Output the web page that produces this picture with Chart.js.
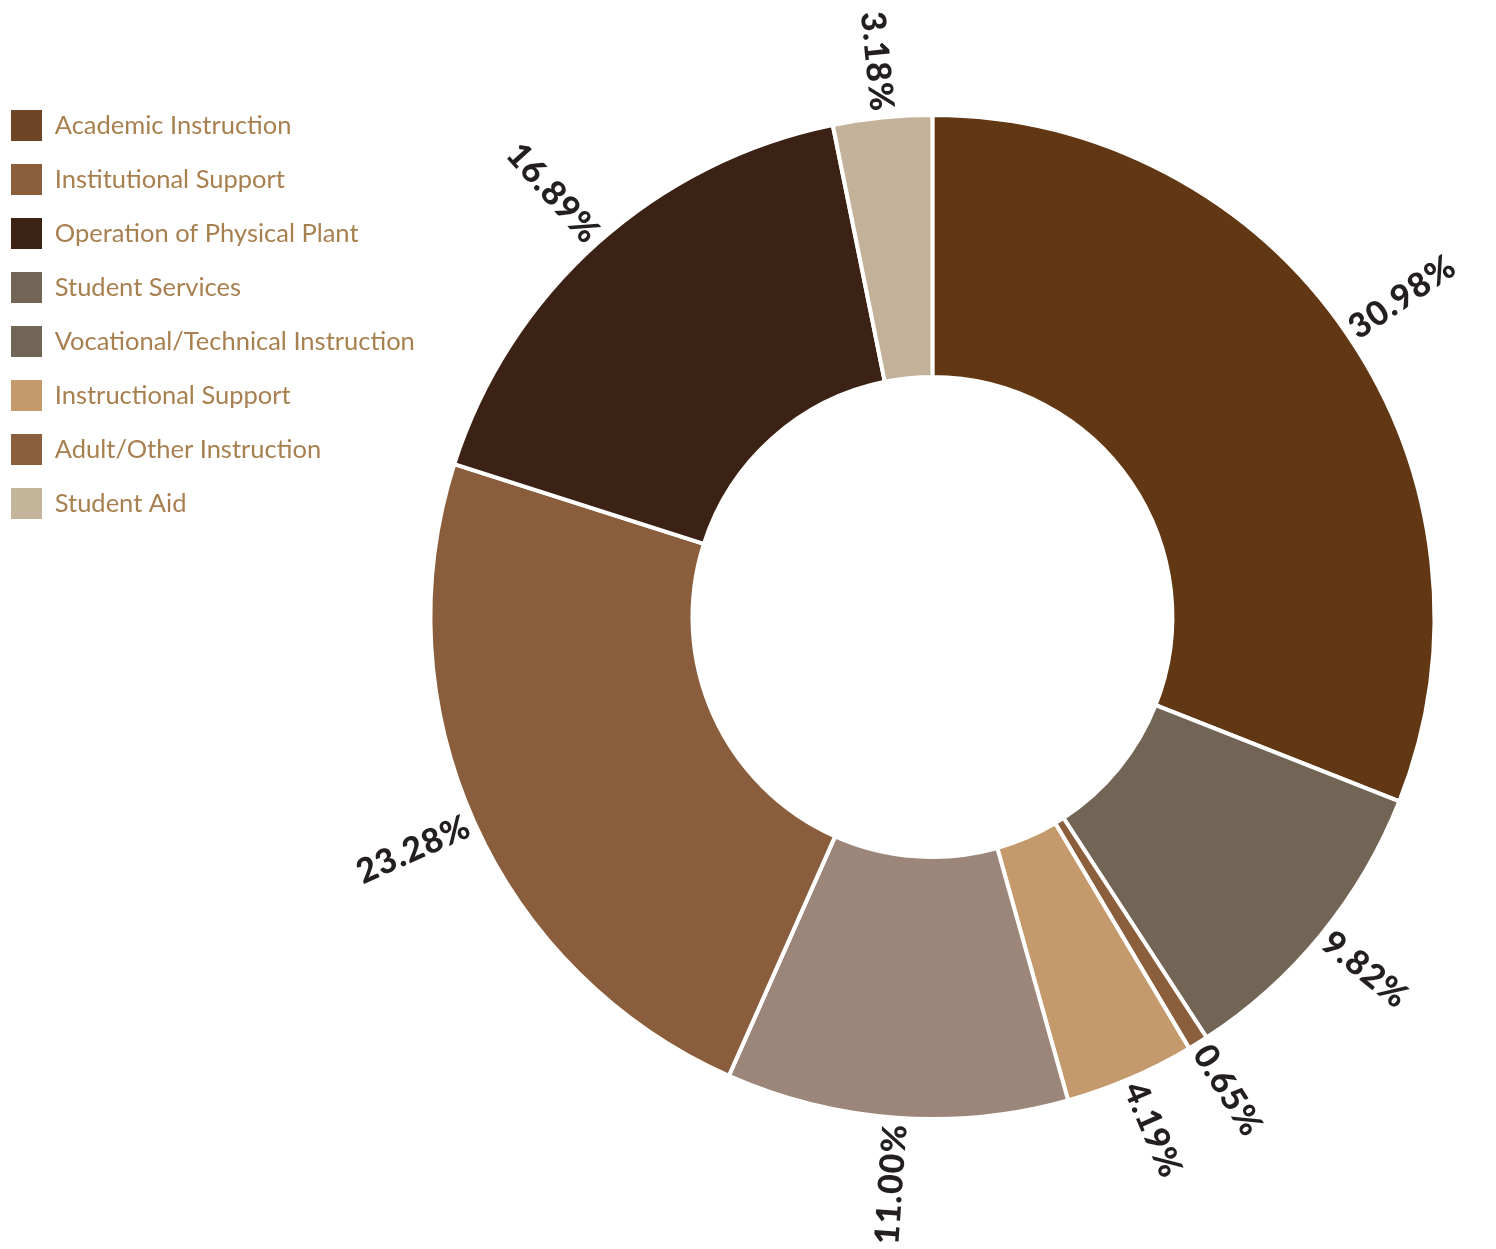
<!DOCTYPE html>
<html>
<head>
<meta charset="utf-8">
<script src="https://cdn.jsdelivr.net/npm/chart.js@4/dist/chart.umd.min.js"></script>
<style>
  html, body { margin:0; padding:0; background:#fff; }
  #wrap { width:1496px; height:1249px; position:relative; }
</style>
</head>
<body>
<div id="wrap"><canvas id="spend-chart"></canvas></div>
<script>
// slices, clockwise from 12 o'clock
const categories = ['Academic Instruction', 'Student Services', 'Adult/Other Instruction', 'Instructional Support',
  'Vocational/Technical Instruction', 'Institutional Support', 'Operation of Physical Plant', 'Student Aid'];
const shares = [30.98, 9.82, 0.65, 4.19, 11.00, 23.28, 16.89, 3.18];
const sliceColors = ['#613813', '#726556', '#8b5e3c', '#c49a6c', '#9c8579', '#8a5e3c', '#3c2215', '#c3b299'];

// legend is listed in a different order than the slices
const legendOrder = ['Academic Instruction', 'Institutional Support', 'Operation of Physical Plant', 'Student Services',
  'Vocational/Technical Instruction', 'Instructional Support', 'Adult/Other Instruction', 'Student Aid'];
const legendSwatches = ['#6e4626', '#8b5e3c', '#3c2314', '#726556', '#716555', '#c49a6c', '#8b5e3c', '#c4b49a'];

// percent labels outside the ring, turned along the radius
const ringLabels = {
  id: 'ringLabels',
  afterDatasetsDraw(chart){
    const ctx = chart.ctx;
    const meta = chart.getDatasetMeta(0);
    ctx.save();
    ctx.font = '900 34px Lato';
    ctx.letterSpacing = '1px';
    ctx.fillStyle = '#231f20';
    ctx.textBaseline = 'middle';
    meta.data.forEach((arc, i)=>{
      const mid = (arc.startAngle + arc.endAngle) / 2;
      const r = arc.outerRadius + 6;
      const x = arc.x + Math.cos(mid) * r;
      const y = arc.y + Math.sin(mid) * r;
      let rot = mid;
      ctx.textAlign = 'left';
      if (Math.cos(mid) < 0) { rot += Math.PI; ctx.textAlign = 'right'; }
      ctx.save();
      ctx.translate(x, y);
      ctx.rotate(rot);
      ctx.fillText(shares[i].toFixed(2) + '%', 0, 0);
      ctx.restore();
    });
    ctx.restore();
  }
};

const ctx = document.getElementById('spend-chart').getContext('2d');
new Chart(ctx, {
  type: 'doughnut',
  data: {
    labels: categories,
    datasets: [{
      data: shares,
      backgroundColor: sliceColors,
      borderColor: '#ffffff',
      borderWidth: 4,
      radius: 502,
      cutout: '47.8%'
    }]
  },
  options: {
    responsive: true,
    maintainAspectRatio: false,
    animation: false,
    layout: { padding: { top: 87, bottom: 102, left: -12, right: 56 } },
    plugins: {
      tooltip: { enabled: false },
      legend: {
        position: 'left',
        align: 'start',
        labels: {
          boxWidth: 31,
          boxHeight: 31,
          padding: 23,
          color: '#a87f4e',
          font: { family: 'Lato', size: 25.5 },
          sort: (a, b) => legendOrder.indexOf(a.text) - legendOrder.indexOf(b.text),
          generateLabels(chart){
            const items = Chart.overrides.doughnut.plugins.legend.labels.generateLabels(chart);
            items.forEach(it=>{
              it.fillStyle = legendSwatches[legendOrder.indexOf(it.text)];
              it.lineWidth = 0;
            });
            return items;
          }
        }
      }
    }
  },
  plugins: [ringLabels]
});
</script>
</body>
</html>
